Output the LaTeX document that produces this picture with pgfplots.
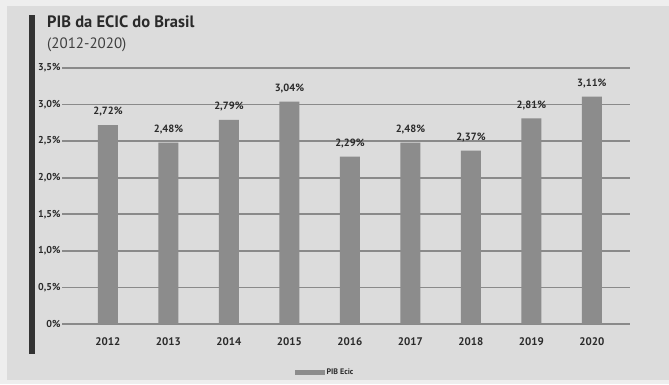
\documentclass[border=0pt]{standalone}
\usepackage{pgfplots}
\pgfplotsset{compat=1.18}
\usepackage{fontspec}
\setmainfont{PT Sans}
\definecolor{bg}{HTML}{DCDCDC}
\definecolor{outer}{HTML}{EEEEEE}
\definecolor{barc}{HTML}{8C8C8C}
\definecolor{gridc}{HTML}{8A8A8A}
\definecolor{txt}{HTML}{2A2A2A}
\begin{document}
\begin{tikzpicture}[x=1pt,y=1pt]
\fill[outer] (0,0) rectangle (669,384);
\fill[bg] (7,4) rectangle (669,378);
\fill[black!80] (29,30) rectangle (35,369);
\node[anchor=west,inner sep=0,text=txt] at (47,362) {\fontsize{16.5}{18}\selectfont\bfseries PIB da ECIC do Brasil};
\node[anchor=west,inner sep=0,text=txt!90] at (47,339) {\fontsize{15}{17}\selectfont (2012-2020)};
\begin{axis}[
  at={(62pt,60pt)}, anchor=south west,
  scale only axis, width=568pt, height=256pt,
  xmin=-0.76, xmax=8.63, ymin=0, ymax=3.5,
  axis line style={draw=none},
  xtick=data, xticklabels={2012,2013,2014,2015,2016,2017,2018,2019,2020},
  ytick={0,0.5,1,1.5,2,2.5,3,3.5},
  yticklabels={0\%,{0,5\%},{1,0\%},{1,5\%},{2,0\%},{2,5\%},{3,0\%},{3,5\%}},
  /pgf/number format/assume math mode=true,
  tick style={draw=none},
  ymajorgrids, grid style={gridc, line width=1.6pt},
  ticklabel style={font=\fontsize{10}{12}\selectfont\bfseries, text=txt},
  yticklabel style={xshift=2pt},
  xticklabel style={yshift=-6pt, font=\fontsize{11}{13}\selectfont\bfseries},
  ybar, bar width=20pt,
  nodes near coords={\pgfmathprintnumber[fixed,precision=2,fixed zerofill,use comma]{\pgfplotspointmeta}\%},
  nodes near coords style={font=\fontsize{10.5}{12}\selectfont\bfseries, text=txt, yshift=5pt},
  legend style={at={(0.463,-0.1875)}, anchor=center, draw=none, fill=none, font=\fontsize{8}{10}\selectfont\bfseries, text=txt},
  legend image code/.code={\fill[barc] (0pt,-2.5pt) rectangle (30pt,2.5pt);},
]
\addplot[fill=barc, draw=none] coordinates {(0,2.72) (1,2.48) (2,2.79) (3,3.04) (4,2.29) (5,2.48) (6,2.37) (7,2.81) (8,3.11)};
\addlegendentry{PIB Ecic}
\end{axis}
\end{tikzpicture}
\end{document}
